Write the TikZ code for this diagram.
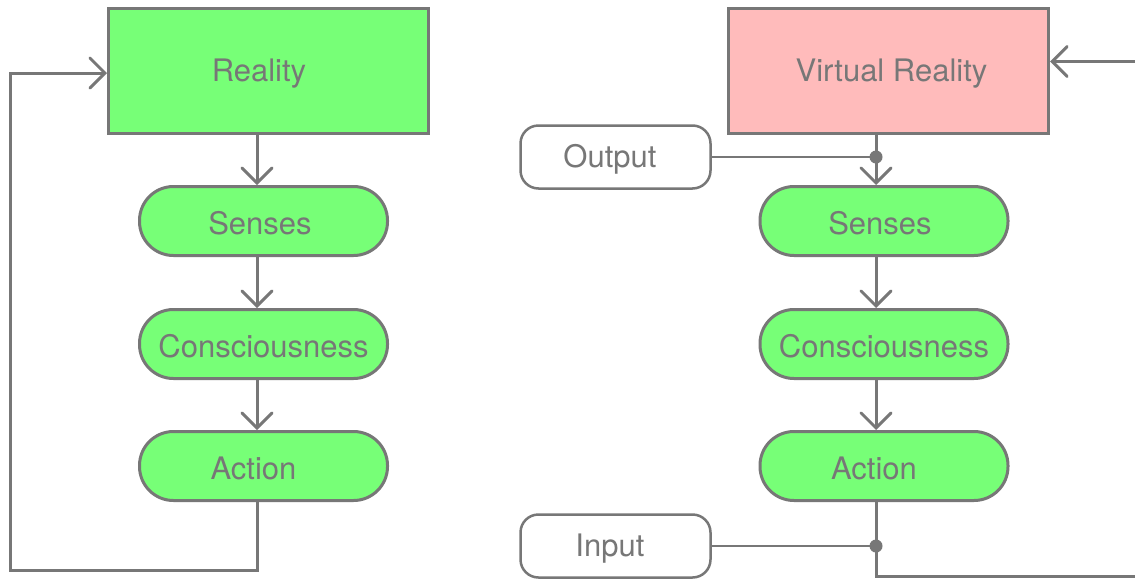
\documentclass[tikz,border=0pt]{standalone}
\usepackage{fontspec}
\setmainfont{TeX Gyre Heros}
\usetikzlibrary{arrows.meta}
\definecolor{edgegray}{HTML}{777777}
\definecolor{boxgreen}{HTML}{77FF77}
\definecolor{boxpink}{HTML}{FFBBBB}
\tikzset{
  every node/.style={text=edgegray, font=\fontsize{31}{36}\selectfont},
  every label/.style={yshift=-2.5pt},
  realm/.style={draw=edgegray, line width=3pt, rectangle, inner sep=0pt,
    minimum width=320pt, minimum height=125pt},
  pill/.style={draw=edgegray, line width=3pt, fill=boxgreen, rectangle,
    rounded corners=34pt, inner sep=0pt, minimum width=248pt, minimum height=69pt},
  port/.style={draw=edgegray, line width=2.5pt, fill=white, rectangle,
    rounded corners=18pt, inner sep=0pt, minimum width=190pt, minimum height=63pt},
  link/.style={draw=edgegray, line width=3pt},
  flow/.style={link, -{Straight Barb[length=15pt, width=30pt, line cap=round]}},
  tap/.style={draw=edgegray, line width=2.5pt},
  junction/.style={circle, fill=edgegray, inner sep=0pt, minimum size=13pt},
}
\begin{document}
\begin{tikzpicture}[x=1pt, y=-1pt]
  \clip (0,0) rectangle (1135,579);
  \fill[white] (0,0) rectangle (1135,579);

  % ---- physical loop ----
  \coordinate (colL) at (257,0);
  \node[realm, fill=boxgreen, label={[xshift=-9.5pt]center:Reality}] (reality) at (268.5,71) {};
  \node[pill, label={[xshift=-3.5pt]center:Senses}] (sensesL) at (263.5,221) {};
  \node[pill, label={center:Consciousness}] (consL) at (263.5,344) {};
  \node[pill, label={[xshift=-10pt]center:Action}] (actionL) at (263.5,466) {};
  \coordinate (loopL) at (10,570);

  \draw[flow] (reality.south -| colL) -- (sensesL.north -| colL);
  \draw[flow] (sensesL.south -| colL) -- (consL.north -| colL);
  \draw[flow] (consL.south -| colL) -- (actionL.north -| colL);
  \draw[flow] (actionL.south -| colL) |- (loopL) |- ([yshift=-2pt]reality.west);

  % ---- virtual loop ----
  \coordinate (colR) at (876,0);
  \node[realm, fill=boxpink, label={[xshift=3pt]center:Virtual Reality}] (vr) at (888.5,71) {};
  \node[pill, label={[xshift=-4pt]center:Senses}] (sensesR) at (884,221) {};
  \node[pill, label={center:Consciousness}] (consR) at (884,344) {};
  \node[pill, label={[xshift=-10pt]center:Action}] (actionR) at (884,466) {};
  \node[port, label={[xshift=-5.5pt]center:Output}] (output) at (615.5,157) {};
  \node[port, label={[xshift=-5.5pt]center:Input}] (input) at (615.5,546) {};
  \coordinate (loopR) at (1160,576);

  \draw[flow] (vr.south -| colR) -- (sensesR.north -| colR);
  \draw[flow] (sensesR.south -| colR) -- (consR.north -| colR);
  \draw[flow] (consR.south -| colR) -- (actionR.north -| colR);
  \draw[flow] (actionR.south -| colR) |- (loopR) |- ([yshift=9.5pt]vr.east);

  \node[junction] (outDot) at (876,157) {};
  \node[junction] (inDot) at (876,546) {};
  \draw[tap] (output.east) -- (outDot.center);
  \draw[tap] (input.east) -- (inDot.center);
\end{tikzpicture}
\end{document}
